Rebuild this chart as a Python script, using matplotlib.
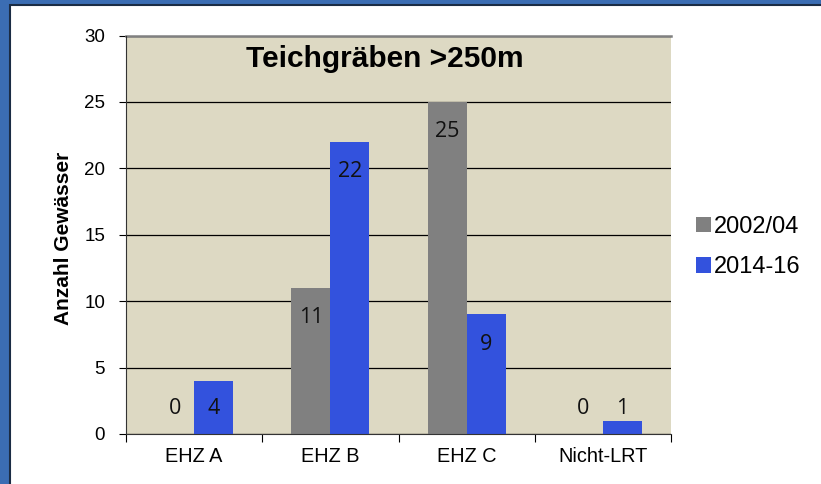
import matplotlib
matplotlib.use("Agg")
import matplotlib.pyplot as plt
from matplotlib.patches import Rectangle
import numpy as np

categories = ["EHZ A", "EHZ B", "EHZ C", "Nicht-LRT"]
series_names = ["2002/04", "2014-16"]
values_2002 = [0, 11, 25, 0]
values_2014 = [4, 22, 9, 1]
yticks = [0, 5, 10, 15, 20, 25, 30]

W, H = 821, 484
fig = plt.figure(figsize=(W / 100, H / 100), dpi=100)
fig.patch.set_facecolor("#3b6db3")
fig.patches.append(Rectangle((10 / W, -0.05), 1.1, (H - 5) / H + 0.05, transform=fig.transFigure,
                             facecolor="white", edgecolor="#1b2c44", linewidth=1.5, zorder=-10))

ax = fig.add_axes([126 / W, (H - 434) / H, (671 - 126) / W, (434 - 35.5) / H])
ax.set_zorder(5)
ax.set_facecolor("#ddd9c3")

x = np.arange(len(categories))
w = 0.287
c1, c2 = "#808080", "#3352dd"
b1 = ax.bar(x - w / 2, values_2002, w, color=c1, label=series_names[0], zorder=2)
b2 = ax.bar(x + w / 2, values_2014, w, color=c2, label=series_names[1], zorder=2)

# inside-end data labels, kept above the axis for small bars
for bars, vals in ((b1, values_2002), (b2, values_2014)):
    for rect, v in zip(bars, vals):
        ax.text(rect.get_x() + rect.get_width() / 2, max(v - 2.25, 1.95), str(v),
                ha="center", va="center", fontsize=15.5,
                family=["Open Sans", "DejaVu Sans"], color="#111111", zorder=3)

ax.set_xlim(-0.5, len(categories) - 0.5)
ax.set_ylim(0, 30)
ax.set_yticks(yticks)
ax.set_yticklabels([str(t) for t in yticks], fontsize=13.5, family="Liberation Sans")
ax.yaxis.grid(True, color="black", linewidth=0.9, zorder=1)
ax.set_axisbelow(True)
ax.set_xticks(x)
ax.set_xticklabels(categories, fontsize=14.3, family="Liberation Sans")
ax.set_xticks(np.arange(-0.5, len(categories)), minor=True)
ax.tick_params(axis="x", which="major", length=0, pad=9.5)
ax.tick_params(axis="x", which="minor", length=6, width=0.8, direction="out")
ax.tick_params(axis="y", length=5, width=0.8, direction="out", pad=10)

for s in ["top", "right"]:
    ax.spines[s].set_visible(False)
ax.spines["left"].set_color("#333333")
ax.spines["bottom"].set_color("#333333")
ax.axhline(30, color="#808080", linewidth=1.8, zorder=1, clip_on=False)

ax.set_ylabel("Anzahl Gewässer", fontsize=15, fontweight="bold",
              family="Liberation Sans")
ax.yaxis.set_label_coords(-0.098, 0.49)

ax.text(0.475, 0.94, "Teichgräben >250m", transform=ax.transAxes, ha="center", va="center",
        fontsize=21.5, fontweight="bold", family="Liberation Sans", color="black")

fig.legend(handles=[b1, b2], labels=series_names, loc="center left",
           bbox_to_anchor=(696 / W, 1 - 247 / H), frameon=False,
           prop={"family": "Liberation Sans", "size": 17},
           handlelength=0.62, handleheight=0.62, handletextpad=0.12, labelspacing=0.8,
           borderaxespad=0, borderpad=0)

fig.savefig("out.png", dpi=100, facecolor=fig.get_facecolor())
